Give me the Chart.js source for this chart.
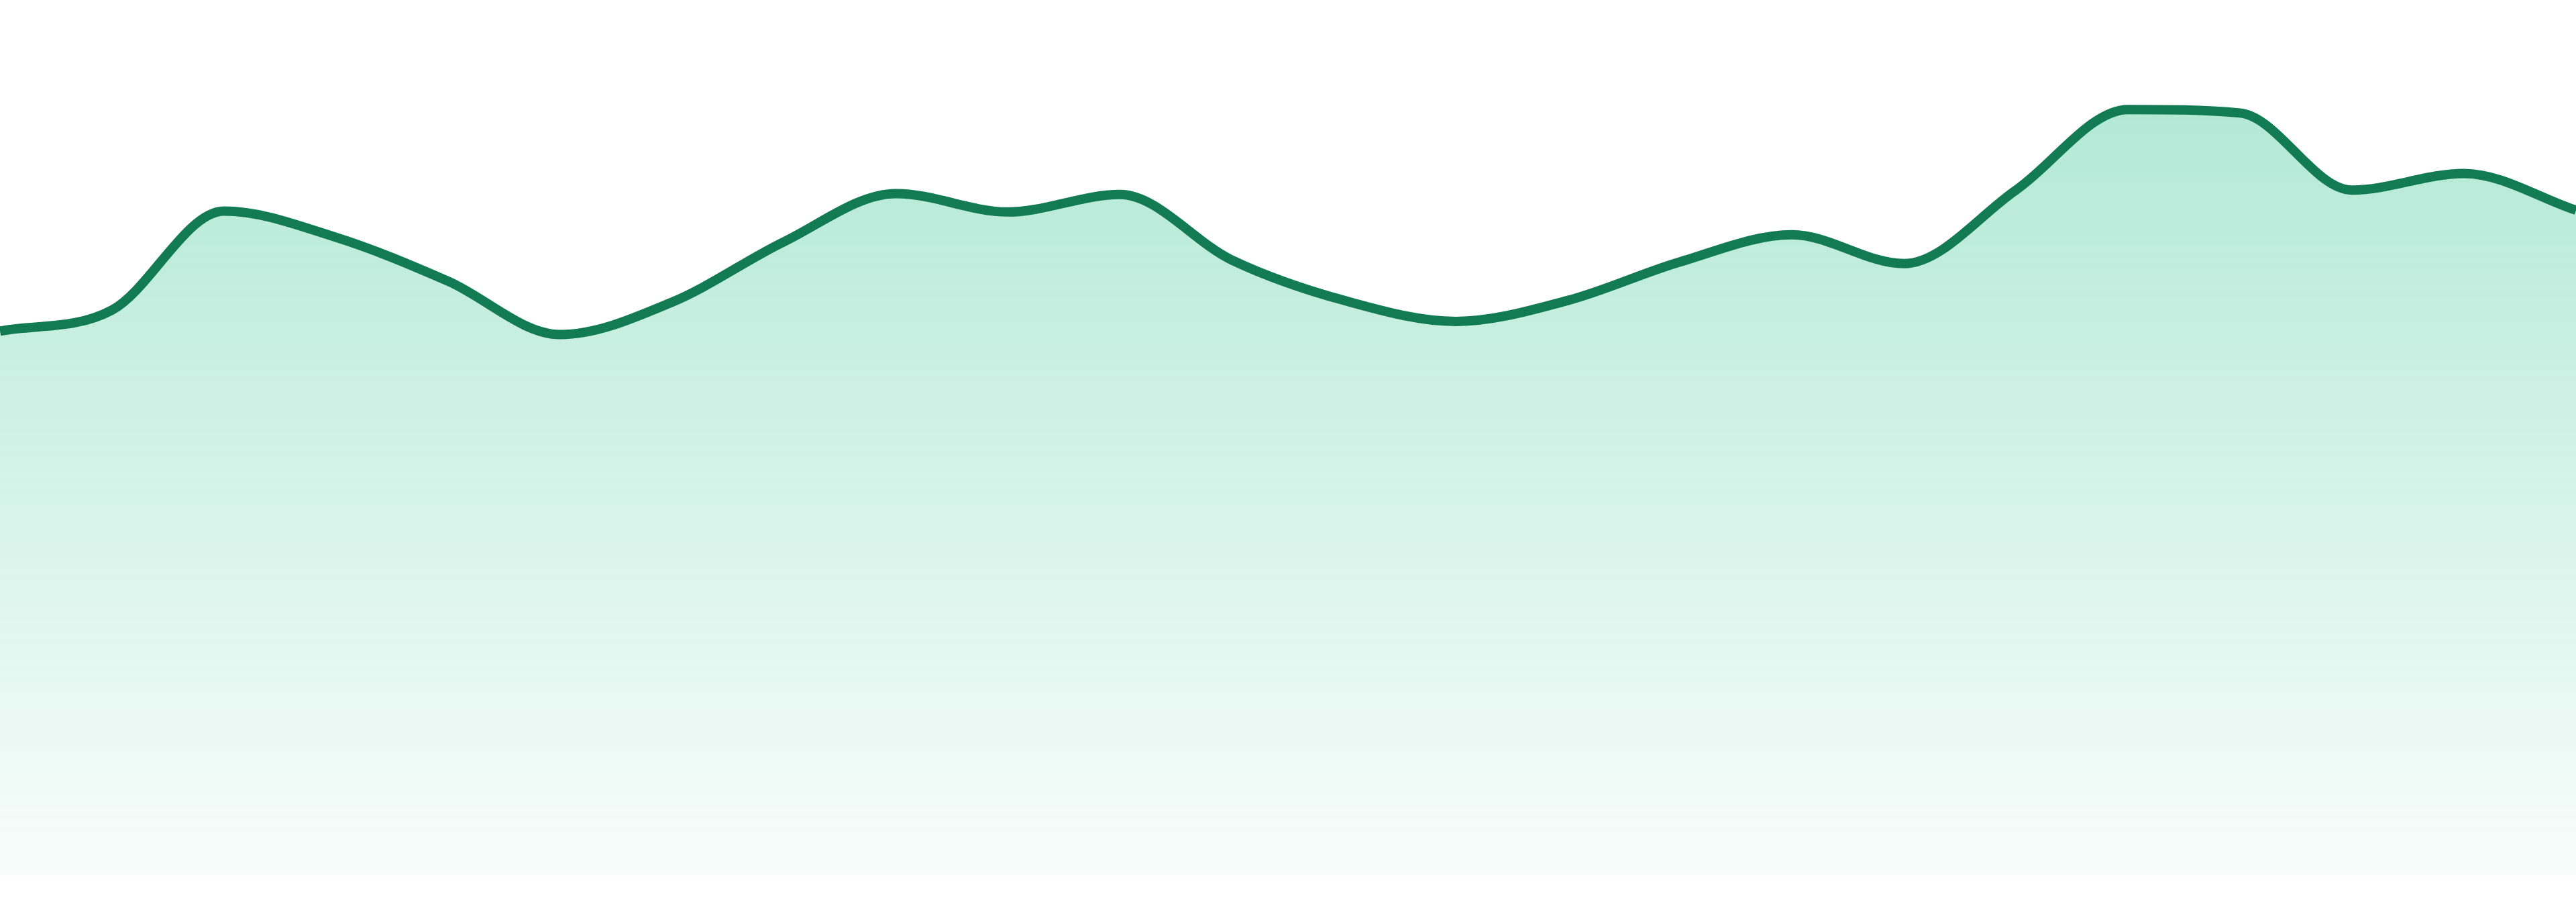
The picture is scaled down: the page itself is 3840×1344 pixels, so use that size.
<!DOCTYPE html>
<html>
<head>
<meta charset="utf-8">
<style>
  html, body { margin: 0; padding: 0; background: #ffffff; }
  #wrap { width: 3840px; height: 1344px; position: relative; }
</style>
<script src="https://cdn.jsdelivr.net/npm/chart.js@4.4.1/dist/chart.umd.min.js"></script>
</head>
<body>
<div id="wrap"><canvas id="trendChart"></canvas></div>
<script>
// Categories (hidden on the chart)
const hours = ['00:00', '01:00', '02:00', '03:00', '04:00', '05:00', '06:00', '07:00',
    '08:00', '09:00', '10:00', '11:00', '12:00', '13:00', '14:00', '15:00',
    '16:00', '17:00', '18:00', '19:00', '20:00', '21:00', '22:00', '23:00'];

// Series values
const values = [62.2, 64.6, 75.9, 72.9, 67.9, 61.8, 65.5, 72.4,
    77.9, 75.8, 77.8, 70.3, 65.7, 63.3, 65.7, 70.1,
    73.2, 69.9, 78.3, 87.5, 87.1, 78.3, 80.2, 76.0];

// Value range of the hidden y axis
const yMin = 0;
const yMax = 100;

const lineColor = '#127b53';

function fillGradient(context) {
    const chart = context.chart;
    const area = chart.chartArea;
    if (!area) return 'rgba(16, 185, 129, 0.2)';
    const g = chart.ctx.createLinearGradient(0, area.top, 0, area.bottom);
    g.addColorStop(0, 'rgba(16, 185, 129, 0.36)');
    g.addColorStop(1, 'rgba(16, 185, 129, 0.03)');
    return g;
}

const ctx = document.getElementById('trendChart').getContext('2d');
new Chart(ctx, {
    type: 'line',
    data: {
        labels: hours,
        datasets: [{
            label: 'Trend',
            data: values,
            borderColor: lineColor,
            backgroundColor: fillGradient,
            fill: 'origin',
            cubicInterpolationMode: 'monotone',
            borderWidth: 14,
            pointRadius: 0,
            pointHoverRadius: 0
        }]
    },
    options: {
        responsive: true,
        maintainAspectRatio: false,
        animation: false,
        layout: { padding: { top: 0, right: 0, bottom: 39, left: 0 } },
        plugins: {
            legend: { display: false },
            tooltip: { enabled: false }
        },
        scales: {
            x: { display: false },
            y: { display: false, min: yMin, max: yMax }
        }
    }
});
</script>
</body>
</html>
